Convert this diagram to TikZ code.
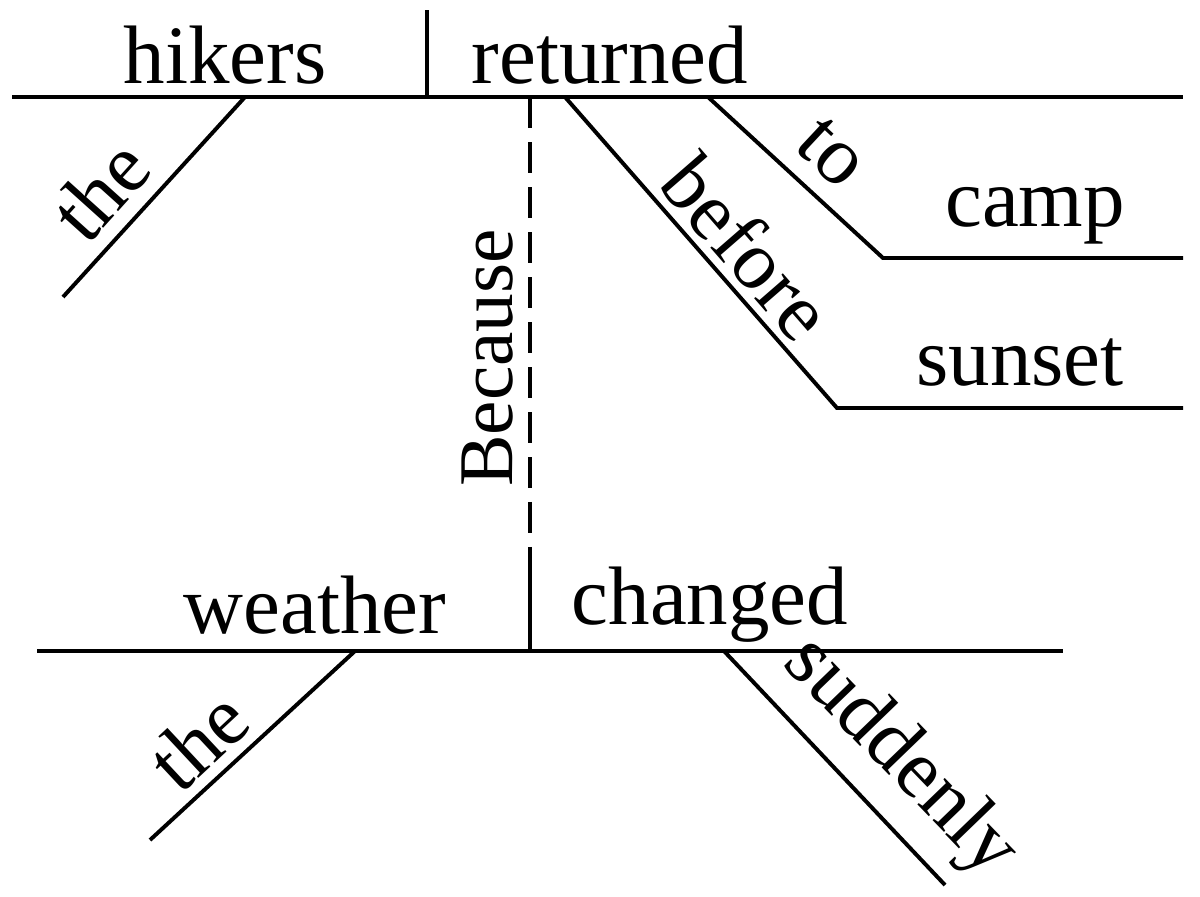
\documentclass[tikz,border=0pt]{standalone}
\usepackage{fontspec}
\setmainfont{Liberation Serif}
\begin{document}
\begin{tikzpicture}[x=0.025cm,y=-0.025cm,line width=2.8pt,
  word/.style={font=\fontsize{59}{62}\selectfont,inner sep=0pt}]
\useasboundingbox (0,0) rectangle (1200,896);
% top clause
\coordinate (tl) at (12,97); \coordinate (tr) at (1183,97);
\draw (tl) -- (tr);
\coordinate (d1a) at (427,10); \coordinate (d1b) at (427,97);
\draw (d1a) -- (d1b);
\node[word] (hikers) at (225,55) {hikers};
\node[word] (returned) at (610,55) {returned};
\coordinate (t1a) at (245,97); \coordinate (t1b) at (63,297);
\draw (t1a) -- (t1b);
\node[word,rotate=48] (the1) at (100,190) {the};
\coordinate (toa) at (708,97); \coordinate (tob) at (883,258); \coordinate (toc) at (1183,258);
\draw (toa) -- (tob) -- (toc);
\node[word,rotate=-43] (to) at (832,153) {to};
\node[word] (camp) at (1035,216) {camp};
\coordinate (bfa) at (565,97); \coordinate (bfb) at (837,408); \coordinate (bfc) at (1183,408);
\draw (bfa) -- (bfb) -- (bfc);
\node[word,rotate=-49] (before) at (748,247) {before};
\node[word] (sunset) at (1020,363) {sunset};
% because
\coordinate (ba) at (530,97); \coordinate (bb) at (530,565);
\draw[dashed,dash pattern=on 22pt off 10pt] (ba) -- (bb);
\node[word,rotate=90,font=\fontsize{55}{58}\selectfont] (because) at (488,358) {Because};
% bottom clause
\coordinate (bl) at (37,651); \coordinate (br) at (1063,651);
\draw (bl) -- (br);
\coordinate (d2b) at (530,651);
\draw (bb) -- (d2b);
\node[word] (weather) at (315,605) {weather};
\node[word] (changed) at (710,605) {changed};
\coordinate (t2a) at (355,651); \coordinate (t2b) at (150,840);
\draw (t2a) -- (t2b);
\node[word,rotate=43] (the2) at (198,740) {the};
\coordinate (sa) at (724,651); \coordinate (sb) at (945,885);
\draw (sa) -- (sb);
\node[word,rotate=-46] (suddenly) at (900,758) {suddenly};
\end{tikzpicture}
\end{document}
